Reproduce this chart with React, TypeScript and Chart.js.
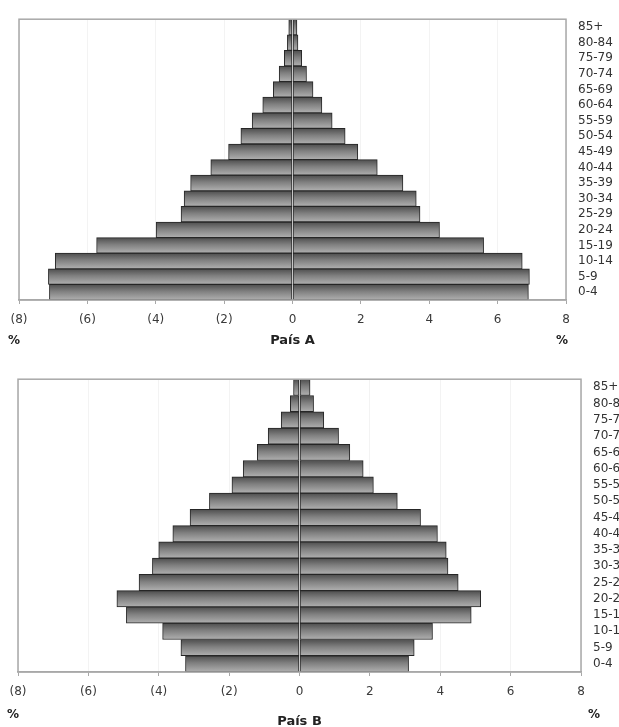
import React, { useEffect, useRef } from "react";
import { Chart, registerables } from "chart.js";

Chart.register(...registerables);

const ageGroups = ["0-4", "5-9", "10-14", "15-19", "20-24", "25-29", "30-34", "35-39", "40-44", "45-49", "50-54", "55-59", "60-64", "65-69", "70-74", "75-79", "80-84", "85+"];

const paisALeft = [7.11, 7.14, 6.94, 5.73, 3.99, 3.26, 3.17, 2.98, 2.39, 1.87, 1.51, 1.18, 0.87, 0.56, 0.39, 0.24, 0.15, 0.11];
const paisARight = [6.9, 6.93, 6.72, 5.59, 4.3, 3.73, 3.62, 3.23, 2.48, 1.91, 1.54, 1.16, 0.86, 0.6, 0.41, 0.27, 0.16, 0.13];

const paisBLeft = [3.24, 3.37, 3.89, 4.92, 5.19, 4.56, 4.18, 4.0, 3.6, 3.11, 2.56, 1.92, 1.6, 1.2, 0.89, 0.52, 0.26, 0.17];
const paisBRight = [3.1, 3.26, 3.78, 4.88, 5.15, 4.51, 4.22, 4.17, 3.92, 3.44, 2.78, 2.1, 1.81, 1.43, 1.11, 0.69, 0.4, 0.3];

const xMin = -8;
const xMax = 8;
const xStep = 2;

const FONT = "'DejaVu Sans', 'Liberation Sans', Arial, sans-serif";

type Layout = {
  width: number;
  height: number;
  padLeft: number;
  padTop: number;
  yAxisWidth: number;
  xAxisHeight: number;
  pctY: number;
  titleY: number;
  pctLeftX: number;
  pctRightX: number;
};

function barGradient(ctx: any) {
  const chart = ctx.chart;
  const y = chart.scales && chart.scales.y;
  if (!y || ctx.dataIndex === undefined || !isFinite(y.top)) return "#888888";
  const c = y.getPixelForValue(ctx.dataIndex);
  const h = (y.bottom - y.top) / ageGroups.length;
  if (!isFinite(c) || !isFinite(h) || h <= 0) return "#888888";
  const g = chart.ctx.createLinearGradient(0, c - h / 2, 0, c + h / 2);
  g.addColorStop(0, "#4e4e4e");
  g.addColorStop(0.45, "#808080");
  g.addColorStop(1, "#b0b0b0");
  return g;
}

function Pyramid(props: { left: number[]; right: number[]; title: string; layout: Layout; top: number }) {
  const ref = useRef<HTMLCanvasElement | null>(null);
  const { left, right, title, layout, top } = props;

  useEffect(() => {
    if (!ref.current) return;
    const framePlugin = {
      id: "frame",
      afterDraw(chart: any) {
        const { ctx, chartArea } = chart;
        ctx.save();
        ctx.strokeStyle = "#a8a8a8";
        ctx.lineWidth = 1.5;
        ctx.strokeRect(chartArea.left, chartArea.top, chartArea.right - chartArea.left, chartArea.bottom - chartArea.top);
        ctx.fillStyle = "#222";
        ctx.textAlign = "center";
        ctx.textBaseline = "middle";
        ctx.font = "bold 12px " + FONT;
        ctx.fillText("%", layout.pctLeftX, layout.pctY);
        ctx.fillText("%", layout.pctRightX, layout.pctY);
        ctx.font = "bold 13px " + FONT;
        ctx.fillText(title, (chartArea.left + chartArea.right) / 2, layout.titleY);
        ctx.restore();
      },
    };

    const chart = new Chart(ref.current, {
      type: "bar",
      data: {
        labels: ageGroups,
        datasets: [
          {
            label: "left",
            data: left.map((v) => -v),
            backgroundColor: barGradient as any,
            borderColor: "#262626",
            borderWidth: 1,
            borderSkipped: false,
            barPercentage: 1,
            categoryPercentage: 1,
          },
          {
            label: "right",
            data: right,
            backgroundColor: barGradient as any,
            borderColor: "#262626",
            borderWidth: 1,
            borderSkipped: false,
            barPercentage: 1,
            categoryPercentage: 1,
          },
        ],
      },
      options: {
        indexAxis: "y",
        responsive: false,
        animation: false,
        layout: { autoPadding: false, padding: { left: layout.padLeft, top: layout.padTop, right: 0, bottom: 0 } },
        plugins: { legend: { display: false }, tooltip: { enabled: false }, title: { display: false } },
        scales: {
          x: {
            type: "linear",
            stacked: true,
            min: xMin,
            max: xMax,
            position: "bottom",
            ticks: {
              stepSize: xStep,
              padding: 9,
              color: "#3a3a3a",
              font: { family: FONT, size: 12 },
              callback: (v: any) => (Number(v) < 0 ? "(" + -Number(v) + ")" : String(v)),
            },
            grid: {
              display: true,
              drawOnChartArea: true,
              color: "#f3f3f3",
              tickColor: "#a8a8a8",
              tickLength: 4,
            },
            border: { display: true, color: "#a8a8a8", width: 1.5 },
            afterFit: (scale: any) => {
              scale.height = layout.xAxisHeight;
            },
          } as any,
          y: {
            type: "category",
            stacked: true,
            position: "right",
            reverse: true,
            grid: { display: false, drawTicks: false, tickLength: 0 },
            border: { display: false },
            ticks: {
              padding: 12,
              crossAlign: "near",
              color: "#333",
              font: { family: FONT, size: 12 },
              autoSkip: false,
            },
            afterFit: (scale: any) => {
              scale.width = layout.yAxisWidth;
            },
          } as any,
        },
      },
      plugins: [framePlugin],
    });
    return () => chart.destroy();
  }, [left, right, title, layout]);

  return (
    <canvas
      ref={ref}
      width={layout.width}
      height={layout.height}
      style={{ position: "absolute", left: 0, top, width: layout.width, height: layout.height, display: "block" }}
    />
  );
}

const layoutA: Layout = {
  width: 619,
  height: 355,
  padLeft: 19,
  padTop: 11,
  yAxisWidth: 53,
  xAxisHeight: 55,
  pctY: 341,
  titleY: 341,
  pctLeftX: 14,
  pctRightX: 562,
};

const layoutB: Layout = {
  width: 619,
  height: 367,
  padLeft: 18,
  padTop: 16,
  yAxisWidth: 38,
  xAxisHeight: 55,
  pctY: 355,
  titleY: 362,
  pctLeftX: 13,
  pctRightX: 594,
};

export default function App() {
  return (
    <div style={{ position: "absolute", left: 0, top: 0, width: 619, height: 727, background: "#fff", overflow: "hidden" }}>
      <Pyramid left={paisALeft} right={paisARight} title="País A" layout={layoutA} top={0} />
      <Pyramid left={paisBLeft} right={paisBRight} title="País B" layout={layoutB} top={360} />
    </div>
  );
}
